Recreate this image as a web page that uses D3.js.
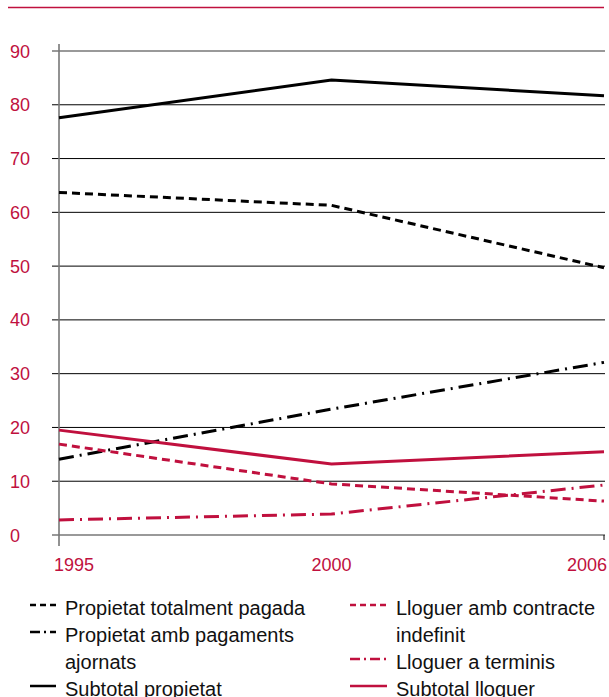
<!DOCTYPE html>
<html>
<head>
<meta charset="utf-8">
<script src="https://cdn.jsdelivr.net/npm/d3@7"></script>
<style>
  body { margin: 0; background: #fff; }
  text { font-family: "Liberation Sans", Arial, sans-serif; }
</style>
</head>
<body>
<script>
// data
var years = ["1995", "2000", "2006"];
var yTicks = [0, 10, 20, 30, 40, 50, 60, 70, 80, 90];

var totalmentPagada = [63.7, 61.3, 49.7];
var pagamentsAjornats = [14.1, 23.4, 32.1];
var subtotalPropietat = [77.6, 84.6, 81.7];
var contracteIndefinit = [16.9, 9.5, 6.3];
var lloguerTerminis = [2.8, 3.9, 9.3];
var subtotalLloguer = [19.5, 13.2, 15.5];

var red = "#c0103e";

var series = [
  {name: "Propietat totalment pagada", values: totalmentPagada, color: "#000", dash: "8,5"},
  {name: "Propietat amb pagaments ajornats", values: pagamentsAjornats, color: "#000", dash: "15,6,2,6"},
  {name: "Subtotal propietat", values: subtotalPropietat, color: "#000", dash: null},
  {name: "Lloguer amb contracte indefinit", values: contracteIndefinit, color: red, dash: "8,5"},
  {name: "Lloguer a terminis", values: lloguerTerminis, color: red, dash: "15,6,2,6"},
  {name: "Subtotal lloguer", values: subtotalLloguer, color: red, dash: null}
];

var svg = d3.select("body").append("svg").attr("width", 609).attr("height", 697);

// top rule
svg.append("line")
  .attr("x1", 8).attr("x2", 604).attr("y1", 7.5).attr("y2", 7.5)
  .attr("stroke", red).attr("stroke-width", 1.5);

var x = d3.scalePoint().domain(years).range([59, 604]);
var y = d3.scaleLinear().domain([0, 90]).range([535, 51]);

// grid
svg.append("g").selectAll("line")
  .data(yTicks)
  .enter().append("line")
  .attr("x1", 52).attr("x2", 605)
  .attr("y1", d => y(d)).attr("y2", d => y(d))
  .attr("stroke", d => (d == 0 || d == 90) ? "#777" : "#000")
  .attr("stroke-width", d => (d == 0 || d == 90) ? 1.6 : 1);

svg.append("g").selectAll("text")
  .data(yTicks)
  .enter().append("text")
  .attr("x", 10).attr("y", d => y(d) + 6.5)
  .attr("fill", red).attr("font-size", 18)
  .text(d => d);

// y axis line
svg.append("line")
  .attr("x1", 59).attr("x2", 59).attr("y1", 44).attr("y2", 546)
  .attr("stroke", "#777").attr("stroke-width", 1.6);
svg.append("line")
  .attr("x1", 604).attr("x2", 604).attr("y1", 535).attr("y2", 540)
  .attr("stroke", "#000").attr("stroke-width", 1);

// x labels
svg.append("g").selectAll("text")
  .data(years)
  .enter().append("text")
  .attr("x", (d, i) => x(d) + (i == 0 ? -5 : i == 2 ? 3 : 0))
  .attr("y", 571)
  .attr("text-anchor", (d, i) => i == 0 ? "start" : i == 2 ? "end" : "middle")
  .attr("fill", red).attr("font-size", 18)
  .text(d => d);

// lines
var line = d3.line().x((d, i) => x(years[i])).y(d => y(d));
svg.append("g").selectAll("path")
  .data(series)
  .enter().append("path")
  .attr("d", d => line(d.values))
  .attr("fill", "none")
  .attr("stroke", d => d.color)
  .attr("stroke-width", 3)
  .attr("stroke-dasharray", d => d.dash);

// legend
var legendRows = [
  {s: 0, x: 30, w: 26, row: 0, lines: ["Propietat totalment pagada"]},
  {s: 1, x: 30, w: 26, row: 1, lines: ["Propietat amb pagaments", "ajornats"]},
  {s: 2, x: 30, w: 26, row: 3, lines: ["Subtotal propietat"]},
  {s: 3, x: 350, w: 37, row: 0, lines: ["Lloguer amb contracte", "indefinit"]},
  {s: 4, x: 350, w: 37, row: 2, lines: ["Lloguer a terminis"]},
  {s: 5, x: 350, w: 37, row: 3, lines: ["Subtotal lloguer"]}
];
var leg = svg.append("g").selectAll("g")
  .data(legendRows)
  .enter().append("g")
  .attr("transform", d => "translate(" + d.x + "," + (605 + d.row * 27) + ")");
leg.append("line")
  .attr("x1", 0).attr("x2", d => d.w).attr("y1", 0).attr("y2", 0)
  .attr("stroke", d => series[d.s].color)
  .attr("stroke-width", 2.5)
  .attr("stroke-dasharray", d => series[d.s].dash ? (series[d.s].dash == "8,5" ? "6,4" : "10,4,2,4") : null);
leg.each(function(d) {
  var g = d3.select(this);
  d.lines.forEach(function(t, i) {
    g.append("text")
      .attr("x", d.w + 9).attr("y", 10 + i * 27)
      .attr("font-size", 20).attr("fill", "#111")
      .text(t);
  });
});
</script>
</body>
</html>
